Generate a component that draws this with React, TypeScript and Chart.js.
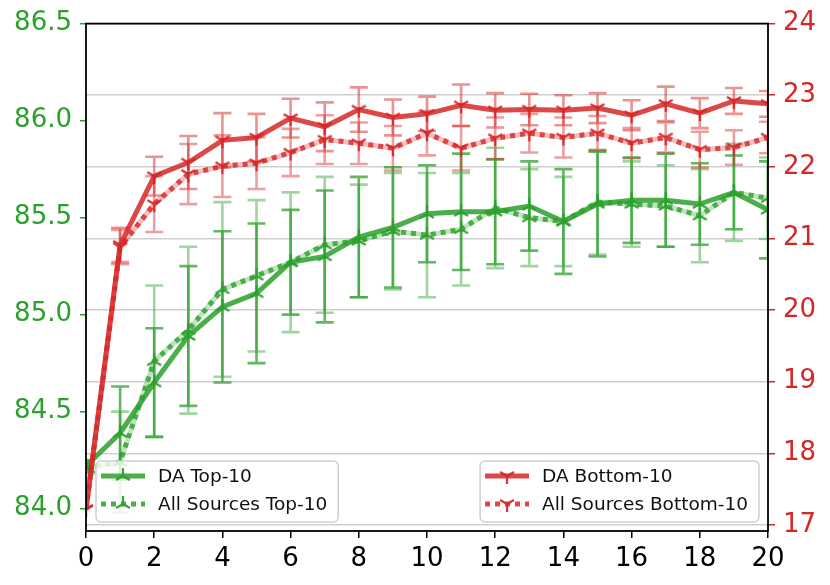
import { useEffect, useRef } from "react"
import { Chart, registerables } from "chart.js"

Chart.register(...registerables)

const steps = [0, 1, 2, 3, 4, 5, 6, 7, 8, 9, 10, 11, 12, 13, 14, 15, 16, 17, 18, 19, 20]

// left axis (green)
const daTop = [84.22, 84.39, 84.65, 84.89, 85.04, 85.11, 85.27, 85.3, 85.4, 85.45, 85.52, 85.53, 85.53, 85.56, 85.48, 85.57, 85.59, 85.59, 85.57, 85.63, 85.54]
const daTopErr = [0.03, 0.24, 0.28, 0.36, 0.39, 0.36, 0.27, 0.34, 0.31, 0.31, 0.25, 0.3, 0.27, 0.23, 0.27, 0.27, 0.22, 0.24, 0.21, 0.19, 0.25]
const allTop = [84.21, 84.24, 84.76, 84.92, 85.13, 85.2, 85.27, 85.36, 85.38, 85.43, 85.41, 85.44, 85.55, 85.5, 85.48, 85.58, 85.57, 85.56, 85.51, 85.63, 85.6]
const allTopErr = [0.03, 0.26, 0.39, 0.43, 0.45, 0.39, 0.36, 0.35, 0.29, 0.3, 0.32, 0.29, 0.31, 0.25, 0.23, 0.27, 0.22, 0.21, 0.24, 0.25, 0.21]

// right axis (red)
const daBottom = [17.22, 20.91, 21.87, 22.06, 22.37, 22.41, 22.68, 22.56, 22.8, 22.69, 22.74, 22.86, 22.79, 22.8, 22.79, 22.82, 22.72, 22.88, 22.75, 22.92, 22.88]
const daBottomErr = [0, 0.24, 0.27, 0.37, 0.38, 0.33, 0.27, 0.34, 0.31, 0.25, 0.24, 0.29, 0.24, 0.22, 0.21, 0.21, 0.21, 0.24, 0.21, 0.18, 0.18]
const allBottom = [17.22, 20.88, 21.48, 21.9, 22.01, 22.05, 22.2, 22.38, 22.33, 22.26, 22.47, 22.26, 22.4, 22.47, 22.41, 22.47, 22.33, 22.41, 22.24, 22.27, 22.41]
const allBottomErr = [0, 0.24, 0.39, 0.42, 0.43, 0.36, 0.33, 0.34, 0.29, 0.31, 0.31, 0.31, 0.29, 0.27, 0.28, 0.24, 0.21, 0.21, 0.25, 0.24, 0.22]

const xTicks = [0, 2, 4, 6, 8, 10, 12, 14, 16, 18, 20]
const leftTicks = [84.0, 84.5, 85.0, 85.5, 86.0, 86.5]
const rightTicks = [17, 18, 19, 20, 21, 22, 23, 24]

const GREEN = "44,160,44"
const RED = "214,39,40"
const FONT = "'DejaVu Sans', sans-serif"

function triMarker(rgb: string, down: boolean) {
  const c = document.createElement("canvas")
  c.width = 20
  c.height = 20
  const g = c.getContext("2d")!
  g.strokeStyle = `rgba(${rgb},0.95)`
  g.lineWidth = 2.2
  const r = 8
  const s = down ? 1 : -1
  g.beginPath()
  g.moveTo(10, 10)
  g.lineTo(10, 10 + s * r)
  g.moveTo(10, 10)
  g.lineTo(10 - r * 0.866, 10 - s * r * 0.5)
  g.moveTo(10, 10)
  g.lineTo(10 + r * 0.866, 10 - s * r * 0.5)
  g.stroke()
  return c
}

const pts = (vals: number[]) => steps.map((x, i) => ({ x, y: vals[i] }))

export default function App() {
  const chartRef = useRef<HTMLCanvasElement>(null)
  const chartInstance = useRef<Chart | null>(null)

  useEffect(() => {
    if (!chartRef.current) return
    if (chartInstance.current) chartInstance.current.destroy()
    const ctx = chartRef.current.getContext("2d")
    if (!ctx) return

    const greenTri = triMarker(GREEN, false)
    const redTri = triMarker(RED, true)

    const legends = [
      {
        side: "left",
        items: [
          { label: "DA Top-10", rgb: GREEN, dotted: false, marker: greenTri },
          { label: "All Sources Top-10", rgb: GREEN, dotted: true, marker: greenTri },
        ],
      },
      {
        side: "right",
        items: [
          { label: "DA Bottom-10", rgb: RED, dotted: false, marker: redTri },
          { label: "All Sources Bottom-10", rgb: RED, dotted: true, marker: redTri },
        ],
      },
    ]

    // vertical error bars with caps, drawn just under their own line
    const errorBars = {
      id: "errorBars",
      beforeDatasetDraw(chart: any, args: any) {
        const ds = chart.data.datasets[args.index]
        if (!ds.errors) return
        const yScale = chart.scales[ds.yAxisID]
        const area = chart.chartArea
        const c = chart.ctx
        c.save()
        c.beginPath()
        c.rect(area.left, area.top, area.right - area.left, area.bottom - area.top)
        c.clip()
        c.strokeStyle = ds.errorColor
        c.lineWidth = 2.6
        args.meta.data.forEach((pt: any, i: number) => {
          const e = ds.errors[i]
          if (!e) return
          const v = ds.data[i].y
          const x = pt.x
          const y1 = yScale.getPixelForValue(v + e)
          const y2 = yScale.getPixelForValue(v - e)
          c.beginPath()
          c.moveTo(x, y1)
          c.lineTo(x, y2)
          c.moveTo(x - 9, y1)
          c.lineTo(x + 9, y1)
          c.moveTo(x - 9, y2)
          c.lineTo(x + 9, y2)
          c.stroke()
        })
        c.restore()
      },
    }

    const frameAndLegend = {
      id: "frameAndLegend",
      afterDatasetsDraw(chart: any) {
        const c = chart.ctx
        const a = chart.chartArea
        c.save()
        c.strokeStyle = "#000"
        c.lineWidth = 1.8
        c.strokeRect(a.left, a.top, a.right - a.left, a.bottom - a.top)

        c.font = `18.5px ${FONT}`
        legends.forEach((lg) => {
          const textW = Math.max(...lg.items.map((it) => c.measureText(it.label).width))
          const w = 62 + textW + 11
          const h = 61
          const bx = lg.side === "left" ? a.left + 10 : a.right - 9 - w
          const by = a.bottom - 9 - h
          c.fillStyle = "rgba(255,255,255,0.8)"
          c.strokeStyle = "#d0d0d0"
          c.lineWidth = 1.5
          c.beginPath()
          c.roundRect(bx, by, w, h, 5)
          c.fill()
          c.stroke()
          lg.items.forEach((it, k) => {
            const ry = by + 15 + k * 28
            c.save()
            c.lineWidth = 5
            if (it.dotted) c.setLineDash([5, 5])
            c.strokeStyle = `rgba(${it.rgb},0.85)`
            c.beginPath()
            c.moveTo(bx + 5, ry)
            c.lineTo(bx + 49, ry)
            c.stroke()
            c.restore()
            c.drawImage(it.marker, bx + 27 - 10, ry - 10)
            c.fillStyle = "#111"
            c.textBaseline = "middle"
            c.textAlign = "left"
            c.fillText(it.label, bx + 62, ry + 1)
          })
        })
        c.restore()
      },
    }

    chartInstance.current = new Chart(ctx, {
      type: "line",
      data: {
        datasets: [
          {
            label: "DA Top-10",
            data: pts(daTop),
            yAxisID: "y",
            borderColor: `rgba(${GREEN},0.85)`,
            borderWidth: 5,
            pointStyle: greenTri,
            pointRadius: 8,
            errors: daTopErr,
            errorColor: `rgba(${GREEN},0.75)`,
            order: 6,
          },
          {
            label: "All Sources Top-10 band",
            data: pts(allTop),
            yAxisID: "y",
            borderColor: `rgba(${GREEN},0.3)`,
            borderWidth: 5,
            pointRadius: 0,
            errors: allTopErr,
            errorColor: `rgba(${GREEN},0.45)`,
            order: 5,
          },
          {
            label: "All Sources Top-10",
            data: pts(allTop),
            yAxisID: "y",
            borderColor: `rgba(${GREEN},0.8)`,
            borderWidth: 5,
            borderDash: [5, 5],
            pointStyle: greenTri,
            pointRadius: 8,
            order: 4,
          },
          {
            label: "DA Bottom-10",
            data: pts(daBottom),
            yAxisID: "y1",
            borderColor: `rgba(${RED},0.85)`,
            borderWidth: 5,
            pointStyle: redTri,
            pointRadius: 8,
            errors: daBottomErr,
            errorColor: `rgba(${RED},0.5)`,
            order: 3,
          },
          {
            label: "All Sources Bottom-10 band",
            data: pts(allBottom),
            yAxisID: "y1",
            borderColor: `rgba(${RED},0.3)`,
            borderWidth: 5,
            pointRadius: 0,
            errors: allBottomErr,
            errorColor: `rgba(${RED},0.45)`,
            order: 2,
          },
          {
            label: "All Sources Bottom-10",
            data: pts(allBottom),
            yAxisID: "y1",
            borderColor: `rgba(${RED},0.8)`,
            borderWidth: 5,
            borderDash: [5, 5],
            pointStyle: redTri,
            pointRadius: 8,
            order: 1,
          },
        ] as any,
      },
      options: {
        animation: false,
        responsive: false,
        layout: { padding: { top: 23, left: 0, right: 0, bottom: 0 } },
        plugins: { legend: { display: false }, tooltip: { enabled: false } },
        scales: {
          x: {
            type: "linear",
            min: 0,
            max: 20,
            afterBuildTicks: (s: any) => {
              s.ticks = xTicks.map((v) => ({ value: v }))
            },
            afterFit: (s: any) => {
              s.height = 54
            },
            grid: { drawOnChartArea: false, tickLength: 7, tickColor: "#000", lineWidth: 1.5 },
            border: { display: false },
            ticks: { color: "#000", font: { family: FONT, size: 26 }, padding: 6, maxRotation: 0, autoSkip: false },
          },
          y: {
            position: "left",
            min: 83.885,
            max: 86.5,
            afterBuildTicks: (s: any) => {
              s.ticks = leftTicks.map((v) => ({ value: v }))
            },
            afterFit: (s: any) => {
              s.width = 86
            },
            grid: { drawOnChartArea: false, tickLength: 6, tickColor: `rgb(${GREEN})`, lineWidth: 1.5 },
            border: { display: false },
            ticks: {
              color: `rgb(${GREEN})`,
              font: { family: FONT, size: 26 },
              padding: 8,
              callback: (v: any) => Number(v).toFixed(1),
            },
          },
          y1: {
            position: "right",
            min: 16.916,
            max: 24,
            afterBuildTicks: (s: any) => {
              s.ticks = rightTicks.map((v) => ({ value: v }))
            },
            afterFit: (s: any) => {
              s.width = 62
            },
            grid: { drawOnChartArea: true, color: "#cfcfcf", lineWidth: 1.5, tickLength: 7, tickColor: `rgb(${RED})` },
            border: { display: false },
            ticks: { color: `rgb(${RED})`, font: { family: FONT, size: 26 }, padding: 8 },
          },
        },
      } as any,
      plugins: [errorBars, frameAndLegend],
    })

    return () => {
      if (chartInstance.current) chartInstance.current.destroy()
    }
  }, [])

  return (
    <div style={{ position: "absolute", left: 0, top: 0, width: 830, height: 585, background: "#fff" }}>
      <canvas ref={chartRef} width={830} height={585} style={{ display: "block" }}></canvas>
    </div>
  )
}
